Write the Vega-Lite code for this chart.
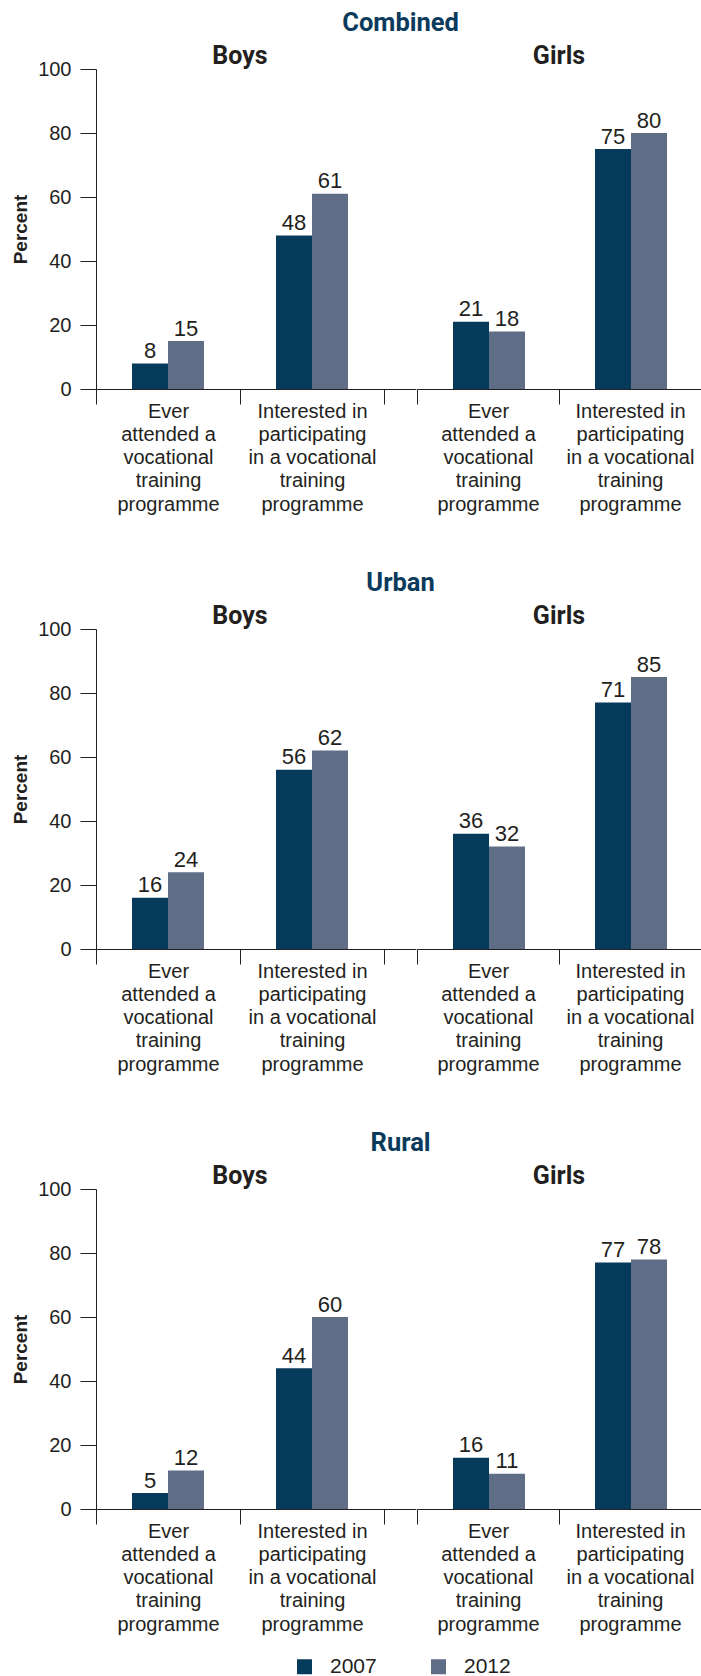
{
  "$schema": "https://vega.github.io/schema/vega-lite/v6.json",
  "padding": {"top": 11, "left": 11, "right": 0, "bottom": 0},
  "datasets": {
    "d": [
      {"region": "Combined", "gender": "Boys", "activity": "Ever", "year": "2007", "value": 8, "label": "8"},
      {"region": "Combined", "gender": "Boys", "activity": "Ever", "year": "2012", "value": 15, "label": "15"},
      {"region": "Combined", "gender": "Boys", "activity": "Interested", "year": "2007", "value": 48, "label": "48"},
      {"region": "Combined", "gender": "Boys", "activity": "Interested", "year": "2012", "value": 61, "label": "61"},
      {"region": "Combined", "gender": "Girls", "activity": "Ever", "year": "2007", "value": 21, "label": "21"},
      {"region": "Combined", "gender": "Girls", "activity": "Ever", "year": "2012", "value": 18, "label": "18"},
      {"region": "Combined", "gender": "Girls", "activity": "Interested", "year": "2007", "value": 75, "label": "75"},
      {"region": "Combined", "gender": "Girls", "activity": "Interested", "year": "2012", "value": 80, "label": "80"},
      {"region": "Urban", "gender": "Boys", "activity": "Ever", "year": "2007", "value": 16, "label": "16"},
      {"region": "Urban", "gender": "Boys", "activity": "Ever", "year": "2012", "value": 24, "label": "24"},
      {"region": "Urban", "gender": "Boys", "activity": "Interested", "year": "2007", "value": 56, "label": "56"},
      {"region": "Urban", "gender": "Boys", "activity": "Interested", "year": "2012", "value": 62, "label": "62"},
      {"region": "Urban", "gender": "Girls", "activity": "Ever", "year": "2007", "value": 36, "label": "36"},
      {"region": "Urban", "gender": "Girls", "activity": "Ever", "year": "2012", "value": 32, "label": "32"},
      {"region": "Urban", "gender": "Girls", "activity": "Interested", "year": "2007", "value": 77, "label": "71"},
      {"region": "Urban", "gender": "Girls", "activity": "Interested", "year": "2012", "value": 85, "label": "85"},
      {"region": "Rural", "gender": "Boys", "activity": "Ever", "year": "2007", "value": 5, "label": "5"},
      {"region": "Rural", "gender": "Boys", "activity": "Ever", "year": "2012", "value": 12, "label": "12"},
      {"region": "Rural", "gender": "Boys", "activity": "Interested", "year": "2007", "value": 44, "label": "44"},
      {"region": "Rural", "gender": "Boys", "activity": "Interested", "year": "2012", "value": 60, "label": "60"},
      {"region": "Rural", "gender": "Girls", "activity": "Ever", "year": "2007", "value": 16, "label": "16"},
      {"region": "Rural", "gender": "Girls", "activity": "Ever", "year": "2012", "value": 11, "label": "11"},
      {"region": "Rural", "gender": "Girls", "activity": "Interested", "year": "2007", "value": 77, "label": "77"},
      {"region": "Rural", "gender": "Girls", "activity": "Interested", "year": "2012", "value": 78, "label": "78"}
    ]
  },
  "data": {"name": "d"},
  "spacing": 56,
  "vconcat": [
    {
      "title": {"text": "Combined"},
      "spacing": 0,
      "hconcat": [
        {
          "width": 320, "height": 320,
          "title": {"text": "Boys", "offset": -10.3, "dx": -16, "color": "#231f20", "fontSize": 25},
          "transform": [{"filter": "datum.region == 'Combined' && datum.gender == 'Boys'"}],
          "encoding": {
            "x": {"field": "activity", "type": "nominal", "sort": ["Ever", "Interested"], "scale": {"paddingInner": 0, "paddingOuter": 0.1111, "align": 0}},
            "xOffset": {"field": "year", "type": "nominal", "scale": {"paddingInner": 0, "paddingOuter": 1.25}},
            "y": {"field": "value", "type": "quantitative", "scale": {"domain": [0, 100]}, "axis": {"title": "Percent", "values": [0, 20, 40, 60, 80, 100]}}
          },
          "layer": [
            {"mark": "bar", "encoding": {"color": {"field": "year", "type": "nominal", "legend": {"orient": "none", "legendX": 198, "legendY": 1587}}}},
            {"mark": "text", "encoding": {"text": {"field": "label"}}}
          ]
        },
        {
          "width": 284, "height": 320,
          "title": {"text": "Girls", "offset": -0.3, "dx": 0, "color": "#231f20", "fontSize": 25},
          "transform": [{"filter": "datum.region == 'Combined' && datum.gender == 'Girls'"}],
          "encoding": {
            "x": {"field": "activity", "type": "nominal", "sort": ["Ever", "Interested"], "scale": {"paddingInner": 0, "paddingOuter": 0}},
            "xOffset": {"field": "year", "type": "nominal", "scale": {"paddingInner": 0, "paddingOuter": 1.25}},
            "y": {"field": "value", "type": "quantitative", "scale": {"domain": [0, 100]}, "axis": null}
          },
          "layer": [
            {"mark": "bar", "encoding": {"color": {"field": "year", "type": "nominal"}}},
            {"mark": "text", "encoding": {"text": {"field": "label"}}}
          ]
        }
      ]
    },
    {
      "title": {"text": "Urban"},
      "spacing": 0,
      "hconcat": [
        {
          "width": 320, "height": 320,
          "title": {"text": "Boys", "offset": -10.3, "dx": -16, "color": "#231f20", "fontSize": 25},
          "transform": [{"filter": "datum.region == 'Urban' && datum.gender == 'Boys'"}],
          "encoding": {
            "x": {"field": "activity", "type": "nominal", "sort": ["Ever", "Interested"], "scale": {"paddingInner": 0, "paddingOuter": 0.1111, "align": 0}},
            "xOffset": {"field": "year", "type": "nominal", "scale": {"paddingInner": 0, "paddingOuter": 1.25}},
            "y": {"field": "value", "type": "quantitative", "scale": {"domain": [0, 100]}, "axis": {"title": "Percent", "values": [0, 20, 40, 60, 80, 100]}}
          },
          "layer": [
            {"mark": "bar", "encoding": {"color": {"field": "year", "type": "nominal"}}},
            {"mark": "text", "encoding": {"text": {"field": "label"}}}
          ]
        },
        {
          "width": 284, "height": 320,
          "title": {"text": "Girls", "offset": -0.3, "dx": 0, "color": "#231f20", "fontSize": 25},
          "transform": [{"filter": "datum.region == 'Urban' && datum.gender == 'Girls'"}],
          "encoding": {
            "x": {"field": "activity", "type": "nominal", "sort": ["Ever", "Interested"], "scale": {"paddingInner": 0, "paddingOuter": 0}},
            "xOffset": {"field": "year", "type": "nominal", "scale": {"paddingInner": 0, "paddingOuter": 1.25}},
            "y": {"field": "value", "type": "quantitative", "scale": {"domain": [0, 100]}, "axis": null}
          },
          "layer": [
            {"mark": "bar", "encoding": {"color": {"field": "year", "type": "nominal"}}},
            {"mark": "text", "encoding": {"text": {"field": "label"}}}
          ]
        }
      ]
    },
    {
      "title": {"text": "Rural"},
      "spacing": 0,
      "hconcat": [
        {
          "width": 320, "height": 320,
          "title": {"text": "Boys", "offset": -10.3, "dx": -16, "color": "#231f20", "fontSize": 25},
          "transform": [{"filter": "datum.region == 'Rural' && datum.gender == 'Boys'"}],
          "encoding": {
            "x": {"field": "activity", "type": "nominal", "sort": ["Ever", "Interested"], "scale": {"paddingInner": 0, "paddingOuter": 0.1111, "align": 0}},
            "xOffset": {"field": "year", "type": "nominal", "scale": {"paddingInner": 0, "paddingOuter": 1.25}},
            "y": {"field": "value", "type": "quantitative", "scale": {"domain": [0, 100]}, "axis": {"title": "Percent", "values": [0, 20, 40, 60, 80, 100]}}
          },
          "layer": [
            {"mark": "bar", "encoding": {"color": {"field": "year", "type": "nominal"}}},
            {"mark": "text", "encoding": {"text": {"field": "label"}}}
          ]
        },
        {
          "width": 284, "height": 320,
          "title": {"text": "Girls", "offset": -0.3, "dx": 0, "color": "#231f20", "fontSize": 25},
          "transform": [{"filter": "datum.region == 'Rural' && datum.gender == 'Girls'"}],
          "encoding": {
            "x": {"field": "activity", "type": "nominal", "sort": ["Ever", "Interested"], "scale": {"paddingInner": 0, "paddingOuter": 0}},
            "xOffset": {"field": "year", "type": "nominal", "scale": {"paddingInner": 0, "paddingOuter": 1.25}},
            "y": {"field": "value", "type": "quantitative", "scale": {"domain": [0, 100]}, "axis": null}
          },
          "layer": [
            {"mark": "bar", "encoding": {"color": {"field": "year", "type": "nominal"}}},
            {"mark": "text", "encoding": {"text": {"field": "label"}}}
          ]
        }
      ]
    }
  ],
  "resolve": {"scale": {"color": "shared"}, "legend": {"color": "shared"}},
  "config": {
    "font": "Liberation Sans",
    "view": {"stroke": null},
    "text": {"baseline": "alphabetic", "dy": -5.5, "fontSize": 22, "color": "#231f20"},
    "range": {"category": ["#063a5a", "#5f6e86"]},
    "title": {"font": "Roboto", "fontWeight": "bold", "fontSize": 25.5, "color": "#0b3b5c", "anchor": "middle", "offset": 7.7, "dx": 44},
    "concat": {"spacing": 0},
    "axis": {"domainColor": "#231f20", "tickColor": "#231f20", "labelColor": "#231f20", "titleColor": "#231f20", "grid": false},
    "axisX": {"title": null, "labelAngle": 0, "tickBand": "extent", "tickSize": 15, "labelFontSize": 20, "labelLineHeight": 23.3, "labelPadding": -3, "labelBaseline": "top", "labelExpr": "datum.value == 'Ever' ? ['Ever', 'attended a', 'vocational', 'training', 'programme'] : datum.value == 'Interested' ? ['Interested in', 'participating', 'in a vocational', 'training', 'programme'] : ''"},
    "axisY": {"tickSize": 16, "labelPadding": 9, "labelFontSize": 20, "titleFontSize": 19, "titleFontWeight": "bold", "titlePadding": 7},
    "legend": {"direction": "horizontal", "title": null, "padding": 0, "symbolType": "square", "symbolSize": 225, "symbolStrokeWidth": 0, "labelFontSize": 21, "labelColor": "#231f20", "columnPadding": 51, "symbolOffset": 0, "labelOffset": 15}
  }
}
